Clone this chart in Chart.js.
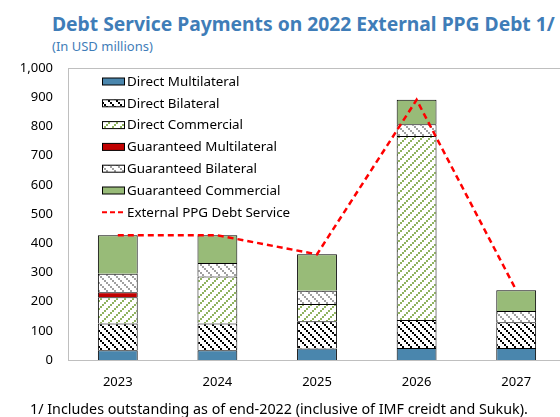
<!DOCTYPE html>
<html>
<head>
<meta charset="utf-8">
<script src="https://cdn.jsdelivr.net/npm/chart.js@4.4.1/dist/chart.umd.min.js"></script>
<style>
    html, body { margin: 0; padding: 0; background: #fff; overflow: hidden; width: 560px; height: 417px; }
    body { position: relative; font-family: "Noto Sans", "Open Sans", sans-serif; }
    #title { position: absolute; left: 52px; top: 10px; font-size: 19.3px; font-weight: bold; color: #3f7db8; white-space: nowrap; }
    #subtitle { position: absolute; left: 52px; top: 37px; font-size: 13px; color: #3f7db8; white-space: nowrap; }
    #note { position: absolute; left: 30px; top: 399px; font-size: 14.3px; color: #000; white-space: nowrap; }
    #chart { position: absolute; left: 0; top: 0; }
</style>
</head>
<body>
<div id="title">Debt Service Payments on 2022 External PPG Debt 1/</div>
<div id="subtitle">(In USD millions)</div>
<canvas id="chart" width="566" height="417"></canvas>
<div id="note">1/ Includes outstanding as of end-2022 (inclusive of IMF creidt and Sukuk).</div>
<script>
// Data (USD millions)
const years = ['2023', '2024', '2025', '2026', '2027'];
const directMultilateral = [33, 33, 39, 41, 41];
const directBilateral = [92, 92, 94, 96, 88];
const directCommercial = [90, 161, 59, 630, 0];
const guaranteedMultilateral = [17, 0, 0, 0, 0];
const guaranteedBilateral = [63, 46, 45, 40, 39];
const guaranteedCommercial = [132, 95, 125, 84, 71];
const debtService = [427, 427, 362, 891, 239];
const yTicks = [0, 100, 200, 300, 400, 500, 600, 700, 800, 900, 1000];

// Hatch patterns (stair-step diagonal, 8px tile)
function hatch(color, dir) {
    const s = 8;
    const c = document.createElement('canvas');
    c.width = s; c.height = s;
    const g = c.getContext('2d');
    g.fillStyle = '#ffffff';
    g.fillRect(0, 0, s, s);
    g.fillStyle = color;
    for (let i = 0; i < s; i += 2) {
        const x = dir === 'back' ? i : s - 2 - i;
        g.fillRect(x, i, 2, 2);
    }
    return g.createPattern(c, 'repeat');
}

const ctx = document.getElementById('chart').getContext('2d');

const patDB = hatch('#000000', 'back');
const patDC = hatch('#8fb35f', 'fwd');
const patGB = hatch('#a0a0a0', 'back');

// Legend drawn inside plot area
const insideLegend = {
    id: 'insideLegend',
    afterDraw(chart) {
        const c = chart.ctx;
        const x0 = 102, y0 = 81.5, step = 21.8;
        c.save();
        c.font = '13.4px "Noto Sans", sans-serif';
        c.textBaseline = 'middle';
        chart.data.datasets.forEach((ds, i) => {
            const y = y0 + i * step;
            if (ds.type === 'line') {
                c.strokeStyle = ds.borderColor;
                c.lineWidth = 2;
                c.setLineDash([5, 3]);
                c.beginPath();
                c.moveTo(x0, y); c.lineTo(x0 + 22, y);
                c.stroke();
                c.setLineDash([]);
            } else {
                c.fillStyle = ds.backgroundColor;
                c.fillRect(x0, y - 3.5, 22, 7);
                c.strokeStyle = '#000';
                c.lineWidth = 1;
                c.strokeRect(x0 + 0.5, y - 3.5, 22, 7);
            }
            c.fillStyle = '#000';
            c.fillText(ds.label, x0 + 25, y + 0.5);
        });
        c.restore();
    }
};

// Grey frame around plot area
const frame = {
    id: 'frame',
    beforeDatasetsDraw(chart) {
        const a = chart.chartArea, c = chart.ctx;
        c.save();
        c.strokeStyle = '#bfbfbf';
        c.lineWidth = 1;
        c.strokeRect(a.left + 0.5, a.top + 0.5, a.right - a.left, a.bottom - a.top);
        c.restore();
    }
};

function barSet(label, data, bg) {
    return {
        type: 'bar', label: label, data: data, backgroundColor: bg,
        borderColor: '#000', borderWidth: 1, stack: 'debt', order: 1,
        barPercentage: 0.4, categoryPercentage: 1
    };
}

new Chart(ctx, {
    data: {
        labels: years,
        datasets: [
            barSet('Direct Multilateral', directMultilateral, '#4a86ad'),
            barSet('Direct Bilateral', directBilateral, patDB),
            barSet('Direct Commercial', directCommercial, patDC),
            barSet('Guaranteed Multilateral', guaranteedMultilateral, '#c00000'),
            barSet('Guaranteed Bilateral', guaranteedBilateral, patGB),
            barSet('Guaranteed Commercial', guaranteedCommercial, '#98bb78'),
            {
                type: 'line', label: 'External PPG Debt Service', data: debtService,
                borderColor: '#ff0000', borderWidth: 2.5, borderDash: [6, 4],
                pointRadius: 0, tension: 0, fill: false, stack: 'line', order: 0
            }
        ]
    },
    options: {
        responsive: false,
        animation: false,
        layout: { padding: { left: 0, top: 68, right: 0, bottom: 0 } },
        plugins: { legend: { display: false }, tooltip: { enabled: false } },
        scales: {
            x: {
                stacked: true,
                grid: { display: false, drawTicks: false },
                border: { display: false },
                ticks: { color: '#000', font: { family: 'Noto Sans', size: 13 }, padding: 14 },
                afterFit(scale) { scale.height = 57; }
            },
            y: {
                stacked: true,
                min: 0, max: 1000,
                afterBuildTicks(scale) { scale.ticks = yTicks.map(v => ({ value: v })); },
                grid: { display: false, drawTicks: false },
                border: { display: false },
                ticks: { color: '#000', font: { family: 'Noto Sans', size: 13 }, padding: 15 },
                afterFit(scale) { scale.width = 68; }
            }
        }
    },
    plugins: [frame, insideLegend]
});
</script>
</body>
</html>
